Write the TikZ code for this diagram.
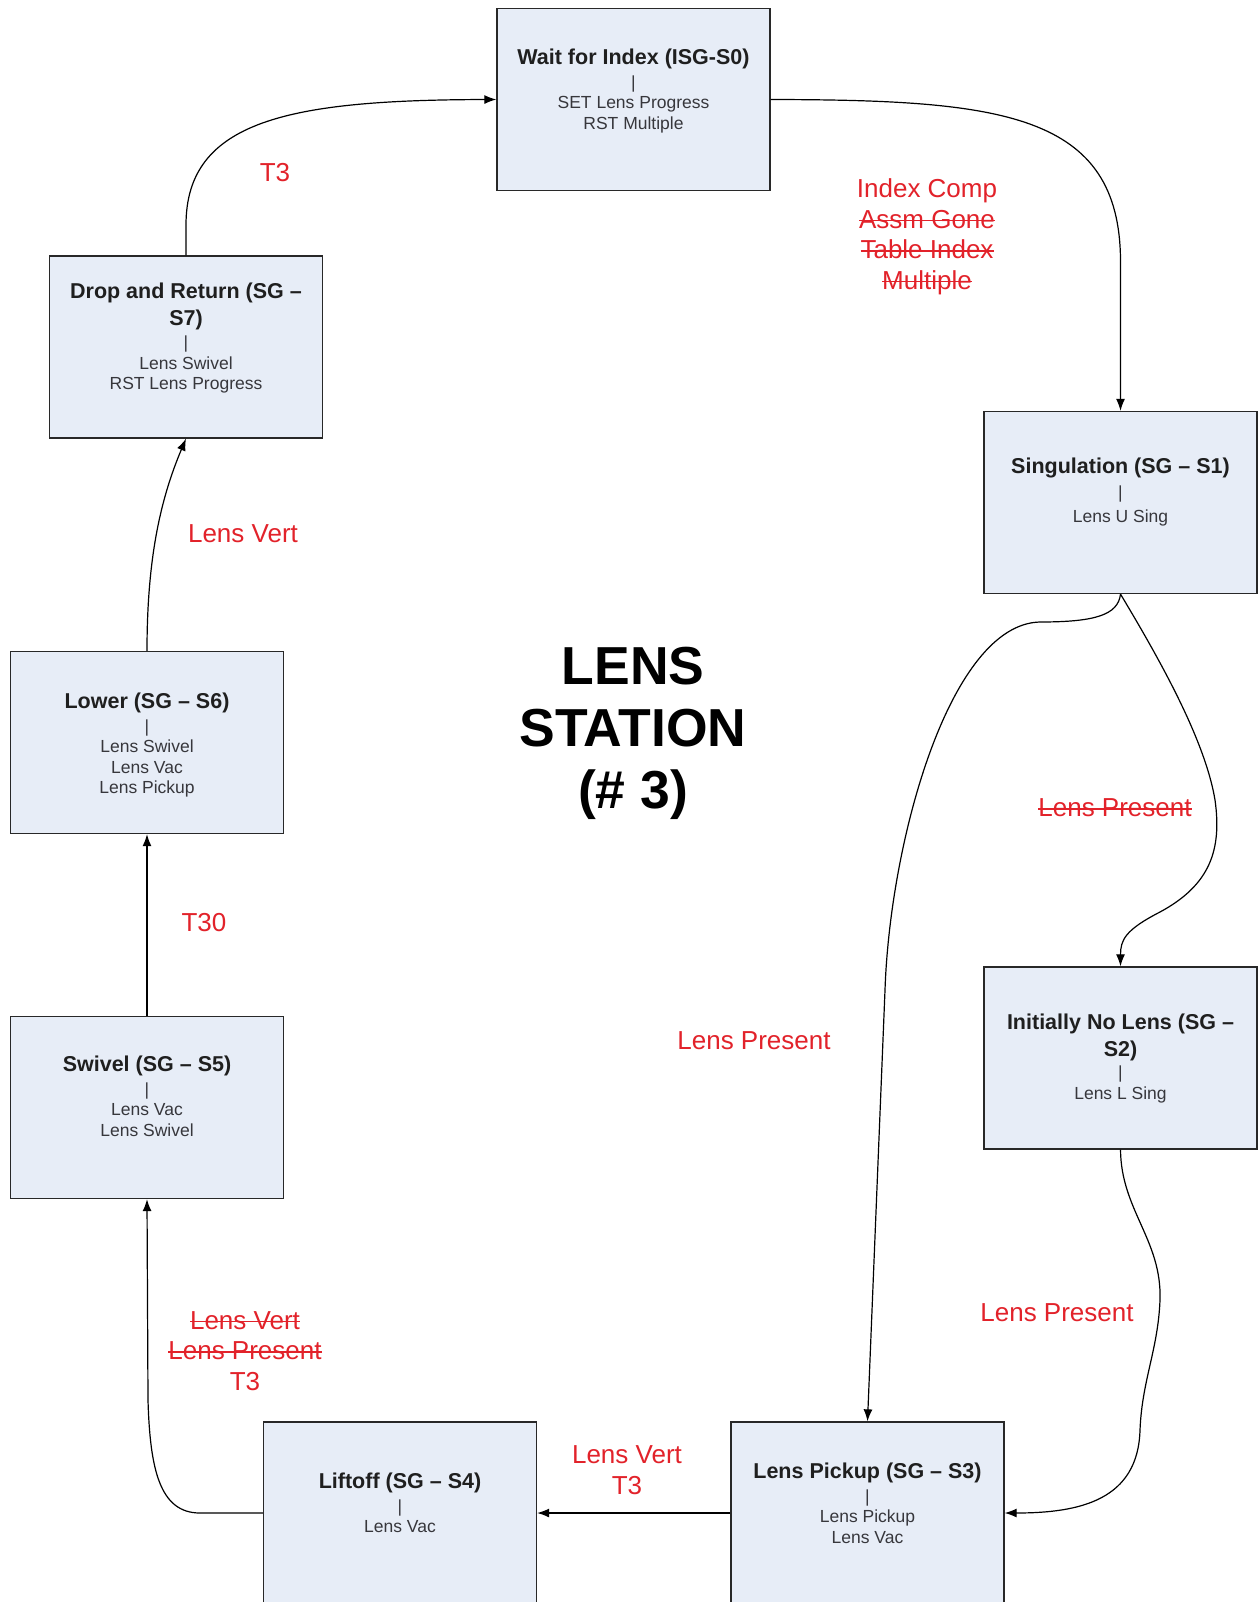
\documentclass[tikz,border=0pt]{standalone}
\usepackage{fontspec}
\setmainfont{Liberation Sans}
\usetikzlibrary{arrows.meta}

\definecolor{boxfill}{RGB}{231,237,247}
\definecolor{boxline}{RGB}{40,40,40}
\definecolor{lblred}{RGB}{226,34,42}
\definecolor{subgray}{RGB}{55,55,60}

\newcommand{\ttl}{\fontsize{21.5}{25}\selectfont\bfseries\color{black!88}}

% struck-out text: the word with a rule drawn through its middle
\newsavebox{\strkbox}
\newcommand{\strk}[1]{\sbox{\strkbox}{#1}\rlap{\usebox{\strkbox}}\raisebox{0.27em}{\rule{\wd\strkbox}{1.6pt}}}

\tikzset{
  stbox/.style={draw=boxline, line width=1.3pt, fill=boxfill,
    minimum width=273pt, minimum height=182pt, inner sep=0pt},
  sttext/.style={anchor=north, align=center, inner sep=0pt, text=subgray,
    font=\fontsize{17.5}{20.5}\selectfont},
  redlbl/.style={align=center, inner sep=0pt, text=lblred,
    font=\fontsize{26}{30.5}\selectfont},
  flow/.style={draw=black, line width=1.2pt,
    -{Latex[length=12pt,width=9pt]}},
}

\begin{document}
\begin{tikzpicture}[x=1pt, y=-1pt]
\useasboundingbox (0,0) rectangle (1259,1602);
\fill[white] (0,0) rectangle (1259,1602);

% state boxes
\node[stbox] (s0) at (633.5,99.5) {};
\node[stbox] (s1) at (1120.5,502.5) {};
\node[stbox] (s2) at (1120.5,1058) {};
\node[stbox] (s3) at (867.5,1513) {};
\node[stbox] (s4) at (400,1513) {};
\node[stbox] (s5) at (147,1107.5) {};
\node[stbox] (s6) at (147,742.5) {};
\node[stbox] (s7) at (186,347) {};

% state texts
\node[sttext] (s0t) at (633.5,49) {{\ttl Wait for Index (ISG-S0)}\\[3pt] |\\ SET Lens Progress\\ RST Multiple};
\node[sttext] (s1t) at (1120.5,458) {{\ttl Singulation (SG – S1)}\\[4pt] |\\[4pt] Lens U Sing};
\node[sttext] (s2t) at (1120.5,1014) {{\ttl Initially No Lens (SG –}\\[6pt] {\ttl S2)}\\[2pt] |\\ Lens L Sing};
\node[sttext] (s3t) at (867.5,1463) {{\ttl Lens Pickup (SG – S3)}\\[3pt] |\\ Lens Pickup\\ Lens Vac};
\node[sttext] (s4t) at (400,1473) {{\ttl Liftoff (SG – S4)}\\[3pt] |\\ Lens Vac};
\node[sttext] (s5t) at (147,1056) {{\ttl Swivel (SG – S5)}\\[3pt] |\\ Lens Vac\\ Lens Swivel};
\node[sttext] (s6t) at (147,693) {{\ttl Lower (SG – S6)}\\[3pt] |\\ Lens Swivel\\ Lens Vac\\ Lens Pickup};
\node[sttext] (s7t) at (186,283) {{\ttl Drop and Return (SG –}\\[6pt] {\ttl S7)}\\[3pt] |\\ Lens Swivel\\ RST Lens Progress};

% station title
\node[align=center, inner sep=0pt, font=\fontsize{53.5}{62}\selectfont\bfseries] (title) at (633,733) {LENS\\ STATION\\ (\# 3)};

% transitions
\draw[flow] (s0.east) .. controls (1000,100) and (1120.5,112) .. (1120.5,262) -- (s1.north);
\draw[flow] (s1.south) .. controls (1160,660) and (1205,740) .. (1215,800)
  .. controls (1222,850) and (1210,885) .. (1160,912)
  .. controls (1125,930) and (1120.5,940) .. (s2.north);
\draw[flow] (s1.south) .. controls (1118,615) and (1095,622) .. (1040,622)
  .. controls (950,624) and (890,840) .. (885,990) -- (s3.north);
\draw[flow] (s2.south) .. controls (1121,1210) and (1162,1240) .. (1160,1300)
  .. controls (1158,1350) and (1142,1380) .. (1140,1430)
  .. controls (1138,1500) and (1080,1513) .. (s3.east);
\draw[flow] (s3.west) -- (s4.east);
\draw[flow] (s4.west) -- (200,1513) .. controls (160,1513) and (150,1470) .. (148,1400) -- (s5.south);
\draw[flow] (s5.north) -- (s6.south);
\draw[flow] (s6.north) .. controls (147,560) and (160,500) .. (s7.south);
\draw[flow] (s7.north) -- (186,225) .. controls (186,120) and (290,100) .. (s0.west);

% transition conditions
\node[redlbl] (l70) at (275,173) {T3};
\node[redlbl] (l01) at (927,237) {Index Comp\\ \strk{Assm Gone}\\ \strk{Table Index}\\ \strk{Multiple}};
\node[redlbl] (l67) at (243,534) {Lens Vert};
\node[redlbl] (l12) at (1115,808) {\strk{Lens Present}};
\node[redlbl] (l56) at (204,923) {T30};
\node[redlbl] (l13) at (754,1041) {Lens Present};
\node[redlbl] (l23) at (1057,1313) {Lens Present};
\node[redlbl] (l45) at (245,1351) {\strk{Lens Vert}\\ \strk{Lens Present}\\ T3};
\node[redlbl] (l34) at (627,1470) {Lens Vert\\ T3};
\end{tikzpicture}
\end{document}
